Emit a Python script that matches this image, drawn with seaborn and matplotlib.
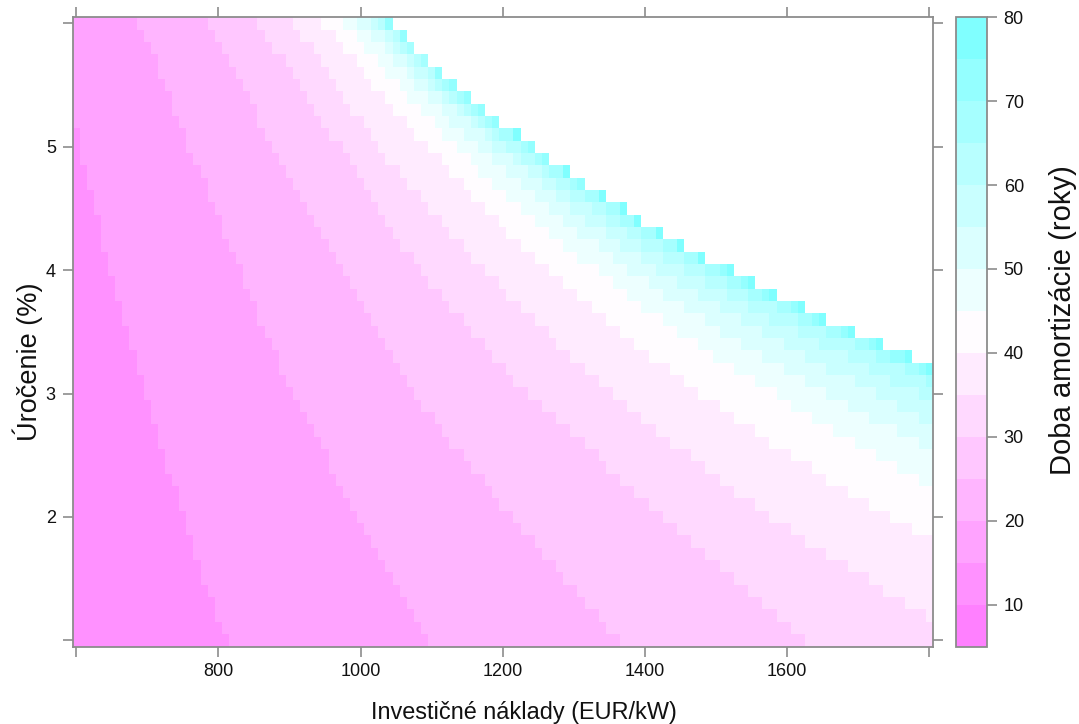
import numpy as np
import pandas as pd
import matplotlib
matplotlib.use("Agg")
import matplotlib.pyplot as plt
import seaborn as sns
from matplotlib.colors import ListedColormap, hsv_to_rgb

# osi mriezky: investicne naklady (EUR/kW) a urocenie (%)
naklady = list(range(600, 1801, 10))
urocenie = [round(1.0 + 0.1 * i, 1) for i in range(51)]

# pre kazdy riadok urocenia 1.0 .. 6.0 prvy stlpec nakladov, kde doba
# amortizacie dosiahne danu hranicu (odcitane z obrazka); MIMO = nedosiahne
MIMO = 1810
hranica_15 = [820, 810, 800, 800, 790, 780, 780, 770, 770, 760,
              760, 750, 750, 740, 730, 730, 720, 720, 710, 710,
              700, 700, 690, 690, 680, 680, 670, 670, 660, 660,
              650, 650, 640, 640, 640, 630, 630, 620, 620, 610,
              610, 610, 600, 600, 600, 600, 600, 600, 600, 600,
              600]
hranica_20 = [1100, 1090, 1080, 1070, 1060, 1050, 1040, 1030, 1020, 1010,
              1000, 990, 980, 970, 960, 960, 950, 940, 930, 920,
              910, 900, 890, 890, 880, 870, 860, 860, 850, 840,
              840, 830, 820, 810, 810, 800, 790, 790, 780, 770,
              760, 760, 750, 740, 740, 730, 720, 720, 710, 700,
              690]
hranica_25 = [1370, 1350, 1340, 1320, 1310, 1290, 1280, 1260, 1250, 1230,
              1220, 1200, 1190, 1180, 1160, 1150, 1130, 1120, 1110, 1090,
              1080, 1070, 1060, 1050, 1040, 1030, 1020, 1010, 1000, 990,
              980, 970, 960, 950, 940, 930, 920, 910, 900, 890,
              880, 870, 860, 860, 850, 840, 830, 820, 810, 800,
              790]
hranica_30 = [1630, 1610, 1590, 1570, 1550, 1530, 1510, 1490, 1470, 1450,
              1430, 1410, 1390, 1370, 1350, 1340, 1320, 1300, 1280, 1260,
              1240, 1220, 1210, 1190, 1180, 1160, 1150, 1130, 1120, 1100,
              1090, 1080, 1060, 1050, 1040, 1030, 1020, 1010, 1000, 990,
              980, 960, 950, 940, 930, 920, 910, 900, 880, 870,
              860]
hranica_35 = [MIMO, MIMO, 1800, 1770, 1740, 1720, 1690, 1660, 1630, 1610,
              1580, 1560, 1530, 1510, 1490, 1470, 1440, 1420, 1400, 1380,
              1360, 1340, 1320, 1300, 1280, 1270, 1250, 1230, 1210, 1200,
              1180, 1160, 1150, 1130, 1120, 1100, 1090, 1070, 1060, 1040,
              1030, 1020, 1010, 990, 980, 970, 960, 950, 940, 920,
              910]
hranica_40 = [MIMO] * 9 + [1780,
              1750, 1720, 1690, 1660, 1640, 1610, 1580, 1560, 1530, 1510,
              1480, 1460, 1440, 1410, 1390, 1370, 1350, 1330, 1310, 1290,
              1270, 1250, 1230, 1210, 1200, 1180, 1160, 1150, 1130, 1120,
              1100, 1080, 1070, 1050, 1040, 1020, 1010, 1000, 980, 970,
              950]
hranica_45 = [MIMO] * 13 + [1790, 1760, 1730, 1700, 1670, 1640, 1610,
              1590, 1560, 1530, 1500, 1480, 1450, 1430, 1400, 1380, 1360,
              1340, 1310, 1290, 1270, 1250, 1230, 1210, 1190, 1170, 1160,
              1140, 1120, 1110, 1090, 1070, 1060, 1040, 1030, 1010, 1000,
              980]
hranica_50 = [MIMO] * 16 + [1790, 1760, 1720, 1690,
              1660, 1630, 1600, 1570, 1540, 1510, 1490, 1460, 1430, 1410,
              1380, 1360, 1340, 1310, 1290, 1270, 1250, 1230, 1210, 1190,
              1170, 1150, 1130, 1120, 1100, 1080, 1070, 1050, 1040, 1020,
              1000]
hranica_55 = [MIMO] * 18 + [1790, 1760,
              1730, 1700, 1660, 1630, 1600, 1570, 1540, 1510, 1480, 1450,
              1420, 1400, 1370, 1350, 1320, 1300, 1280, 1260, 1240, 1220,
              1190, 1180, 1160, 1140, 1120, 1100, 1080, 1070, 1050, 1040,
              1020]
hranica_60 = [MIMO] * 20 + [
              1790, 1750, 1720, 1690, 1650, 1620, 1580, 1550, 1520, 1490,
              1460, 1430, 1400, 1380, 1350, 1330, 1300, 1280, 1260, 1230,
              1210, 1190, 1170, 1150, 1130, 1110, 1100, 1080, 1060, 1050,
              1030]
hranica_65 = [MIMO] * 21 + [
              1800, 1770, 1730, 1700, 1660, 1620, 1590, 1550, 1520,
              1490, 1460, 1430, 1400, 1370, 1350, 1320, 1300, 1270, 1250,
              1230, 1200, 1180, 1160, 1140, 1120, 1110, 1090, 1070, 1060,
              1040]
hranica_70 = [MIMO] * 22 + [
              1790, 1750, 1720, 1680, 1640, 1610, 1570, 1540,
              1510, 1480, 1450, 1420, 1390, 1370, 1340, 1310, 1290, 1260,
              1240, 1220, 1190, 1170, 1150, 1130, 1110, 1100, 1080, 1060,
              1040]
hranica_75 = [MIMO] * 22 + [
              1800, 1770, 1730, 1690, 1650, 1620, 1580, 1550,
              1520, 1480, 1450, 1420, 1390, 1370, 1340, 1320, 1290, 1270,
              1250, 1220, 1200, 1180, 1160, 1140, 1120, 1100, 1080, 1070,
              1050]
# nad 80 rokov sa bunka nekresli (biela plocha)
hranica_80 = [MIMO] * 23 + [
              1780, 1740, 1700, 1660, 1630, 1590, 1560,
              1530, 1490, 1460, 1430, 1400, 1380, 1350, 1320, 1300, 1270,
              1250, 1230, 1200, 1180, 1160, 1140, 1120, 1100, 1080, 1070,
              1050]

urovne = [5, 10, 15, 20, 25, 30, 35, 40, 45, 50, 55, 60, 65, 70, 75, 80]
hranice = [hranica_15, hranica_20, hranica_25, hranica_30, hranica_35,
           hranica_40, hranica_45, hranica_50, hranica_55, hranica_60,
           hranica_65, hranica_70, hranica_75]

x = np.array(naklady)
h = np.array(hranice)                       # (13, 51)
pocet = (x[None, None, :] >= h[:, :, None]).sum(axis=0)
doba = 12.5 + 5.0 * pocet                   # stred pasma
doba[x[None, :] >= np.array(hranica_80)[:, None]] = np.nan

df = pd.DataFrame(doba[::-1], index=urocenie[::-1], columns=naklady)

# lattice "regions" paleta (rev cm.colors(100)), 15 pasiem
idx = [int(np.floor(1 + i * 99 / 14)) for i in range(15)]
farby = []
for j in idx:
    if j <= 50:
        farby.append(hsv_to_rgb((10 / 12, 0.01 * (51 - j), 1.0)))
    else:
        farby.append(hsv_to_rgb((6 / 12, 0.01 * (j - 50), 1.0)))
cmap = ListedColormap(farby)

sns.set_theme(style="white")
plt.rcParams["font.family"] = ["Liberation Sans", "DejaVu Sans"]
seda = "#8c8c8c"

fig = plt.figure(figsize=(10.79, 7.24), dpi=100)
W, H = 1079, 724
ax = fig.add_axes([72.5 / W, (H - 646.5) / H, 860.5 / W, 629.2 / H])
cax = fig.add_axes([956 / W, (H - 646.5) / H, 31 / W, 629.2 / H])

sns.heatmap(df, ax=ax, cmap=cmap, vmin=urovne[0], vmax=urovne[-1],
            cbar_ax=cax, xticklabels=False, yticklabels=False,
            cbar_kws={"ticks": [10, 20, 30, 40, 50, 60, 70, 80]})

xt = [600, 800, 1000, 1200, 1400, 1600, 1800]
ax.set_xticks([naklady.index(v) + 0.5 for v in xt])
ax.set_xticklabels(["", "800", "1000", "1200", "1400", "1600", ""])
yt = [1.0, 2.0, 3.0, 4.0, 5.0, 6.0]
rev = urocenie[::-1]
ax.set_yticks([rev.index(v) + 0.5 for v in yt])
ax.set_yticklabels(["", "2", "3", "4", "5", ""], rotation=0)

for s in ax.spines.values():
    s.set_visible(True)
    s.set_color(seda)
    s.set_linewidth(1.3)
ax.tick_params(axis="both", which="both", direction="out", length=7,
               width=1.2, color=seda, labelsize=13, labelcolor="#111111",
               top=True, right=True, bottom=True, left=True,
               labeltop=False, labelright=False, pad=5)

ax.set_xlabel("Investičné náklady (EUR/kW)", fontsize=16.9, color="#111111")
ax.xaxis.set_label_coords(0.5 + 21 / 860.5, -(712 - 646.5) / 629.2)
ax.xaxis.label.set_va("center")
ax.set_ylabel("Úročenie (%)", fontsize=19.5, color="#111111")
ax.yaxis.set_label_coords(-(72.5 - 28) / 860.5, 0.5 - 30 / 629.2)
ax.yaxis.label.set_va("center")

cb = ax.collections[0].colorbar
cb.outline.set_edgecolor(seda)
cb.outline.set_linewidth(1.3)
cax.tick_params(direction="out", length=7, width=1.2, color=seda,
                labelsize=13, labelcolor="#111111", pad=5)
cax.set_ylabel("Doba amortizácie (roky)", fontsize=21, color="#111111",
               rotation=90)
cax.yaxis.set_label_position("right")
cax.yaxis.set_label_coords(1 + (1063 - 987) / 31, 0.5 + 12 / 629.2)
cax.yaxis.label.set_va("center")

fig.savefig("out.png", dpi=100)
